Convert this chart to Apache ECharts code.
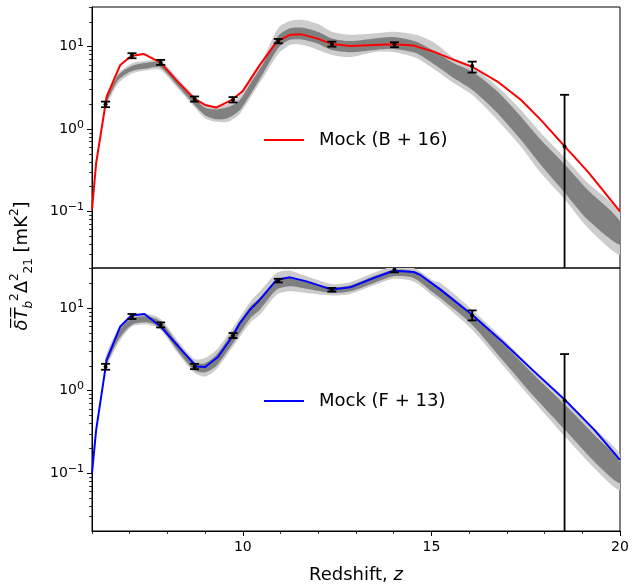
<!DOCTYPE html>
<html><head><meta charset="utf-8">
<script src="https://cdn.jsdelivr.net/npm/echarts@6/dist/echarts.min.js"></script>
<style>html,body{margin:0;padding:0;background:#fff}#c{width:632px;height:587px}</style>
</head><body><div id="c"></div>
<script>
// ---------- axes ----------
const zRange = [6, 20];
const xMajorTicks = [10, 15, 20];
const xMinorTicks = [6, 7, 8, 9, 11, 12, 13, 14, 16, 17, 18, 19];
const yMajorTicks = [0.1, 1, 10];
const yMinorTicks = [0.03, 0.04, 0.05, 0.06, 0.07, 0.08, 0.09, 0.2, 0.3, 0.4, 0.5, 0.6, 0.7, 0.8, 0.9, 2, 3, 4, 5, 6, 7, 8, 9, 20, 30];
const topYRange = [0.0205, 30.3];
const botYRange = [0.02, 30.5];

// ---------- top panel: Mock (B + 16) ----------
const topName = 'Mock (B + 16)';
const topLineZ = [6.0, 6.11, 6.39, 6.75, 7.04, 7.37, 7.82, 8.27, 8.72, 9.0, 9.29, 9.71, 10.0, 10.45, 10.9, 11.25, 11.56, 11.96, 12.36, 12.85, 13.47, 14.0, 14.53, 15.06, 15.6, 16.08, 16.75, 17.37, 17.9, 18.54, 19.14, 20.0];
const topLineV = [0.105, 0.386, 2.48, 6.0, 7.7, 8.15, 6.4, 3.76, 2.32, 1.96, 1.82, 2.26, 2.9, 6.0, 11.5, 13.9, 14.1, 12.6, 10.8, 10.2, 10.5, 10.7, 10.3, 8.7, 6.9, 5.7, 3.77, 2.26, 1.29, 0.61, 0.305, 0.10];

const topBandZ = [6.36, 6.7, 7.06, 7.5, 7.82, 8.27, 8.72, 9.0, 9.3, 9.6, 9.9, 10.2, 10.5, 10.94, 11.25, 11.6, 12.0, 12.36, 12.85, 13.5, 14.0, 14.6, 15.1, 15.6, 16.08, 16.75, 17.37, 17.9, 18.54, 19.14, 20.0];
const topLight95Hi = [2.39, 4.76, 6.26, 6.77, 6.90, 4.14, 2.53, 1.96, 1.91, 2.02, 2.46, 3.95, 6.53, 16.9, 20.5, 21.1, 18.8, 15.2, 13.9, 14.5, 15.2, 13.9, 11.0, 7.23, 5.72, 3.27, 1.71, 0.899, 0.448, 0.223, 0.0966];
const topDark68Hi  = [2.26, 4.54, 5.83, 6.40, 6.43, 3.89, 2.36, 1.81, 1.73, 1.83, 2.20, 3.58, 5.83, 13.5, 16.7, 17.0, 15.1, 12.6, 11.7, 12.6, 13.1, 11.5, 8.69, 6.29, 4.98, 2.85, 1.42, 0.740, 0.368, 0.183, 0.0757];
const topDark68Lo  = [2.02, 3.95, 5.07, 5.47, 5.60, 3.34, 1.96, 1.47, 1.31, 1.35, 1.66, 2.63, 4.42, 9.64, 12.1, 12.1, 10.8, 9.12, 8.55, 9.12, 9.38, 8.32, 6.00, 4.14, 2.99, 1.56, 0.740, 0.368, 0.167, 0.0793, 0.0394];
const topLight95Lo = [1.91, 3.60, 4.73, 5.22, 5.22, 3.13, 1.84, 1.35, 1.22, 1.22, 1.49, 2.39, 3.95, 8.16, 10.5, 10.5, 9.12, 7.94, 7.50, 8.63, 8.63, 7.29, 5.22, 3.60, 2.60, 1.29, 0.614, 0.294, 0.139, 0.0634, 0.0299];

const obsZ = [6.36, 7.06, 7.82, 8.72, 9.74, 10.94, 12.36, 14.02, 16.08, 18.53];
const topObsV  = [2.0, 7.78, 6.4, 2.32, 2.26, 11.7, 10.8, 10.7, 5.8, 0.614];
const topObsLo = [1.84, 7.23, 6.0, 2.15, 2.10, 11.0, 10.0, 9.84, 4.84, 0.001];
const topObsHi = [2.15, 8.32, 6.9, 2.48, 2.44, 12.4, 11.5, 11.3, 6.58, 2.6];

// ---------- bottom panel: Mock (F + 13) ----------
const botName = 'Mock (F + 13)';
const botLineZ = [6.0, 6.11, 6.39, 6.75, 7.04, 7.39, 7.82, 8.37, 8.77, 9.0, 9.34, 9.74, 9.92, 10.19, 10.45, 10.9, 11.25, 11.69, 12.36, 12.85, 13.47, 14.0, 14.53, 14.7, 15.06, 15.24, 16.08, 16.92, 17.72, 18.54, 19.32, 20.0];
const botLineV = [0.1, 0.335, 2.36, 5.98, 8.13, 8.46, 5.98, 3.12, 1.96, 1.93, 2.55, 4.65, 6.58, 9.53, 12.6, 22.0, 23.5, 21.0, 16.7, 17.8, 23.1, 28.3, 27.3, 25.3, 19.2, 16.7, 8.3, 3.77, 1.71, 0.773, 0.335, 0.145];

const botBandZ = [6.36, 6.7, 7.06, 7.5, 7.82, 8.27, 8.72, 9.0, 9.3, 9.74, 10.2, 10.45, 10.9, 11.25, 11.69, 12.36, 12.85, 13.47, 14.0, 14.53, 15.06, 15.24, 16.08, 16.92, 17.72, 18.54, 19.32, 20.0];
const botLight95Hi = [2.57, 5.72, 8.07, 8.46, 7.36, 4.05, 2.41, 2.48, 3.12, 5.82, 12.0, 15.9, 26.6, 28.3, 24.2, 19.5, 20.7, 26.6, 31.9, 30.5, 21.4, 20.1, 9.53, 4.13, 1.79, 0.811, 0.351, 0.167];
const botDark68Hi  = [2.39, 5.20, 7.57, 7.91, 6.88, 3.76, 2.19, 2.15, 2.72, 5.20, 10.5, 13.2, 22.0, 23.5, 21.0, 17.8, 18.8, 24.2, 29.1, 27.8, 19.2, 17.5, 8.29, 3.59, 1.55, 0.673, 0.291, 0.138];
const botDark68Lo  = [2.03, 4.13, 6.28, 6.69, 5.72, 3.06, 1.75, 1.66, 2.00, 3.76, 7.57, 9.53, 16.7, 18.3, 17.1, 15.2, 15.9, 20.1, 24.2, 23.1, 15.2, 13.2, 6.28, 2.25, 0.848, 0.335, 0.138, 0.0757];
const botLight95Lo = [1.89, 3.76, 5.98, 6.28, 5.46, 2.85, 1.63, 1.48, 1.82, 3.42, 6.69, 8.29, 14.5, 15.9, 15.2, 14.2, 14.8, 18.8, 22.6, 21.0, 13.8, 12.0, 5.46, 1.96, 0.738, 0.278, 0.115, 0.0628];

const botObsV  = [1.94, 7.85, 6.23, 1.95, 4.65, 21.6, 16.7, 29.1, 8.1, 0.76];
const botObsLo = [1.79, 7.36, 5.82, 1.82, 4.33, 20.4, 15.8, 27.0, 7.08, 0.001];
const botObsHi = [2.11, 8.46, 6.69, 2.11, 4.98, 22.6, 17.5, 31.4, 9.35, 2.77];

// ---------- helpers ----------
const FONT = 'DejaVu Sans';
const LIGHT = '#cccccc', DARK = '#808080';

function bandSeries(idx, zs, lLo, dLo, dHi, lHi) {
  return {
    type: 'custom', xAxisIndex: idx === 0 ? 0 : 1, yAxisIndex: idx === 0 ? 0 : 2,
    clip: true, silent: true, z: 1,
    data: [[zs[0], dLo[0]]],
    renderItem: function (params, api) {
      function poly(lo, hi) {
        const pts = [];
        for (let i = 0; i < zs.length; i++) pts.push(api.coord([zs[i], hi[i]]));
        for (let i = zs.length - 1; i >= 0; i--) pts.push(api.coord([zs[i], lo[i]]));
        return pts;
      }
      return {
        type: 'group',
        children: [
          { type: 'polygon', shape: { points: poly(lLo, lHi), smooth: 0.25 }, style: { fill: LIGHT, stroke: null } },
          { type: 'polygon', shape: { points: poly(dLo, dHi), smooth: 0.25 }, style: { fill: DARK, stroke: null } }
        ]
      };
    }
  };
}

function lineSeries(idx, name, zs, vs, color) {
  return {
    type: 'line', name: name, xAxisIndex: idx === 0 ? 0 : 1, yAxisIndex: idx === 0 ? 0 : 2,
    data: zs.map((z, i) => [z, vs[i]]), symbol: 'none', smooth: false,
    lineStyle: { color: color, width: 2, join: 'round' }, itemStyle: { color: color }, z: 2, silent: true
  };
}

function errSeries(idx, vs, lo, hi) {
  return {
    type: 'custom', xAxisIndex: idx === 0 ? 0 : 1, yAxisIndex: idx === 0 ? 0 : 2,
    clip: true, silent: true, z: 3,
    data: obsZ.map((z, i) => [z, vs[i], lo[i], hi[i]]),
    renderItem: function (params, api) {
      const z = api.value(0);
      const p = api.coord([z, api.value(1)]);
      const a = api.coord([z, api.value(2)]);
      const b = api.coord([z, api.value(3)]);
      const cw = 4.5;
      const st = { stroke: '#000', lineWidth: 1.8 };
      return {
        type: 'group', children: [
          { type: 'line', shape: { x1: p[0], y1: a[1], x2: p[0], y2: b[1] }, style: st },
          { type: 'line', shape: { x1: p[0] - cw, y1: a[1], x2: p[0] + cw, y2: a[1] }, style: st },
          { type: 'line', shape: { x1: p[0] - cw, y1: b[1], x2: p[0] + cw, y2: b[1] }, style: st },
          { type: 'circle', shape: { cx: p[0], cy: p[1], r: 2 }, style: { fill: '#000' } }
        ]
      };
    }
  };
}

function expLabel(v) {
  const e = Math.round(Math.log10(v));
  return '{b|10}{s|' + (e < 0 ? '\u2212' + (-e) : e) + '}';
}

function yAxesFor(grid, range) {
  return [
    {
      gridIndex: grid, type: 'log', logBase: 10, min: range[0], max: range[1], position: 'left',
      axisLine: { show: true, lineStyle: { color: '#000', width: 1 } },
      axisTick: { show: true, customValues: yMajorTicks, length: 5, lineStyle: { color: '#000', width: 1 } },
      axisLabel: {
        show: true, customValues: yMajorTicks, margin: 8, formatter: expLabel, color: '#000',
        rich: {
          b: { fontSize: 14, fontFamily: FONT, color: '#000', lineHeight: 19 },
          s: { fontSize: 11, fontFamily: FONT, color: '#000', verticalAlign: 'top' }
        }
      },
      splitLine: { show: false }, minorTick: { show: false }
    },
    {
      gridIndex: grid, type: 'log', logBase: 10, min: range[0], max: range[1], position: 'left',
      axisLine: { show: false },
      axisTick: { show: true, customValues: yMinorTicks, length: 3, lineStyle: { color: '#000', width: 0.8 } },
      axisLabel: { show: false },
      splitLine: { show: false }, minorTick: { show: false }
    }
  ];
}

const chart = echarts.init(document.getElementById('c'), null, { renderer: 'canvas' });
const legendText = { fontSize: 18, fontFamily: FONT, color: '#000', padding: [0, 0, 0, 10] };

chart.setOption({
  animation: false,
  backgroundColor: '#fff',
  textStyle: { fontFamily: FONT },
  grid: [
    { left: 92, top: 7, width: 528, height: 261, show: true, borderColor: '#000', borderWidth: 1, backgroundColor: 'transparent' },
    { left: 92, top: 268, width: 528, height: 263, show: true, borderColor: '#000', borderWidth: 1, backgroundColor: 'transparent' }
  ],
  xAxis: [
    { gridIndex: 0, type: 'value', min: zRange[0], max: zRange[1], axisLine: { show: false }, axisTick: { show: false }, axisLabel: { show: false }, splitLine: { show: false } },
    {
      gridIndex: 1, type: 'value', min: zRange[0], max: zRange[1], position: 'bottom',
      axisLine: { show: true, lineStyle: { color: '#000', width: 1 } },
      axisTick: { show: true, customValues: xMajorTicks, length: 5, lineStyle: { color: '#000' } },
      axisLabel: { show: true, customValues: xMajorTicks, fontSize: 14, color: '#000', margin: 9, fontFamily: FONT },
      splitLine: { show: false },
      name: 'Redshift, {i|z}', nameLocation: 'middle', nameGap: 35,
      nameTextStyle: { fontSize: 18, color: '#000', fontFamily: FONT, rich: { i: { fontSize: 18, fontStyle: 'italic', fontFamily: FONT, color: '#000' } } }
    },
    {
      gridIndex: 1, type: 'value', min: zRange[0], max: zRange[1], position: 'bottom',
      axisLine: { show: false },
      axisTick: { show: true, customValues: xMinorTicks, length: 3, lineStyle: { color: '#000', width: 0.8 } },
      axisLabel: { show: false }, splitLine: { show: false }
    }
  ],
  yAxis: yAxesFor(0, topYRange).concat(yAxesFor(1, botYRange)),
  legend: [
    { data: [{ name: topName, icon: 'rect' }], left: 259, top: 126, itemWidth: 40, itemHeight: 2, selectedMode: false, textStyle: legendText },
    { data: [{ name: botName, icon: 'rect' }], left: 259, top: 387, itemWidth: 40, itemHeight: 2, selectedMode: false, textStyle: legendText }
  ],
  graphic: [{
    type: 'text', x: 22, y: 266, rotation: Math.PI / 2,
    style: {
      text: '{mi|\u03B4\u0305T\u0305}{sbi|b}{sp|2}{m|\u0394}{sp|2}{sb|21}{m| [mK}{sp|2}{m|]}',
      align: 'center', verticalAlign: 'middle', fill: '#000', font: '18px ' + FONT,
      rich: {
        m: { fontSize: 18, fontFamily: FONT, fill: '#000', lineHeight: 26 },
        mi: { fontSize: 18, fontFamily: FONT, fontStyle: 'italic', fill: '#000', lineHeight: 26 },
        sp: { fontSize: 12, fontFamily: FONT, fill: '#000', verticalAlign: 'top' },
        sb: { fontSize: 12, fontFamily: FONT, fill: '#000', verticalAlign: 'bottom' },
        sbi: { fontSize: 12, fontFamily: FONT, fontStyle: 'italic', fill: '#000', verticalAlign: 'bottom' }
      }
    }
  }],
  series: [
    bandSeries(0, topBandZ, topLight95Lo, topDark68Lo, topDark68Hi, topLight95Hi),
    lineSeries(0, topName, topLineZ, topLineV, '#ff0000'),
    errSeries(0, topObsV, topObsLo, topObsHi),
    bandSeries(1, botBandZ, botLight95Lo, botDark68Lo, botDark68Hi, botLight95Hi),
    lineSeries(1, botName, botLineZ, botLineV, '#0000ff'),
    errSeries(1, botObsV, botObsLo, botObsHi)
  ]
});
</script>
</body></html>
